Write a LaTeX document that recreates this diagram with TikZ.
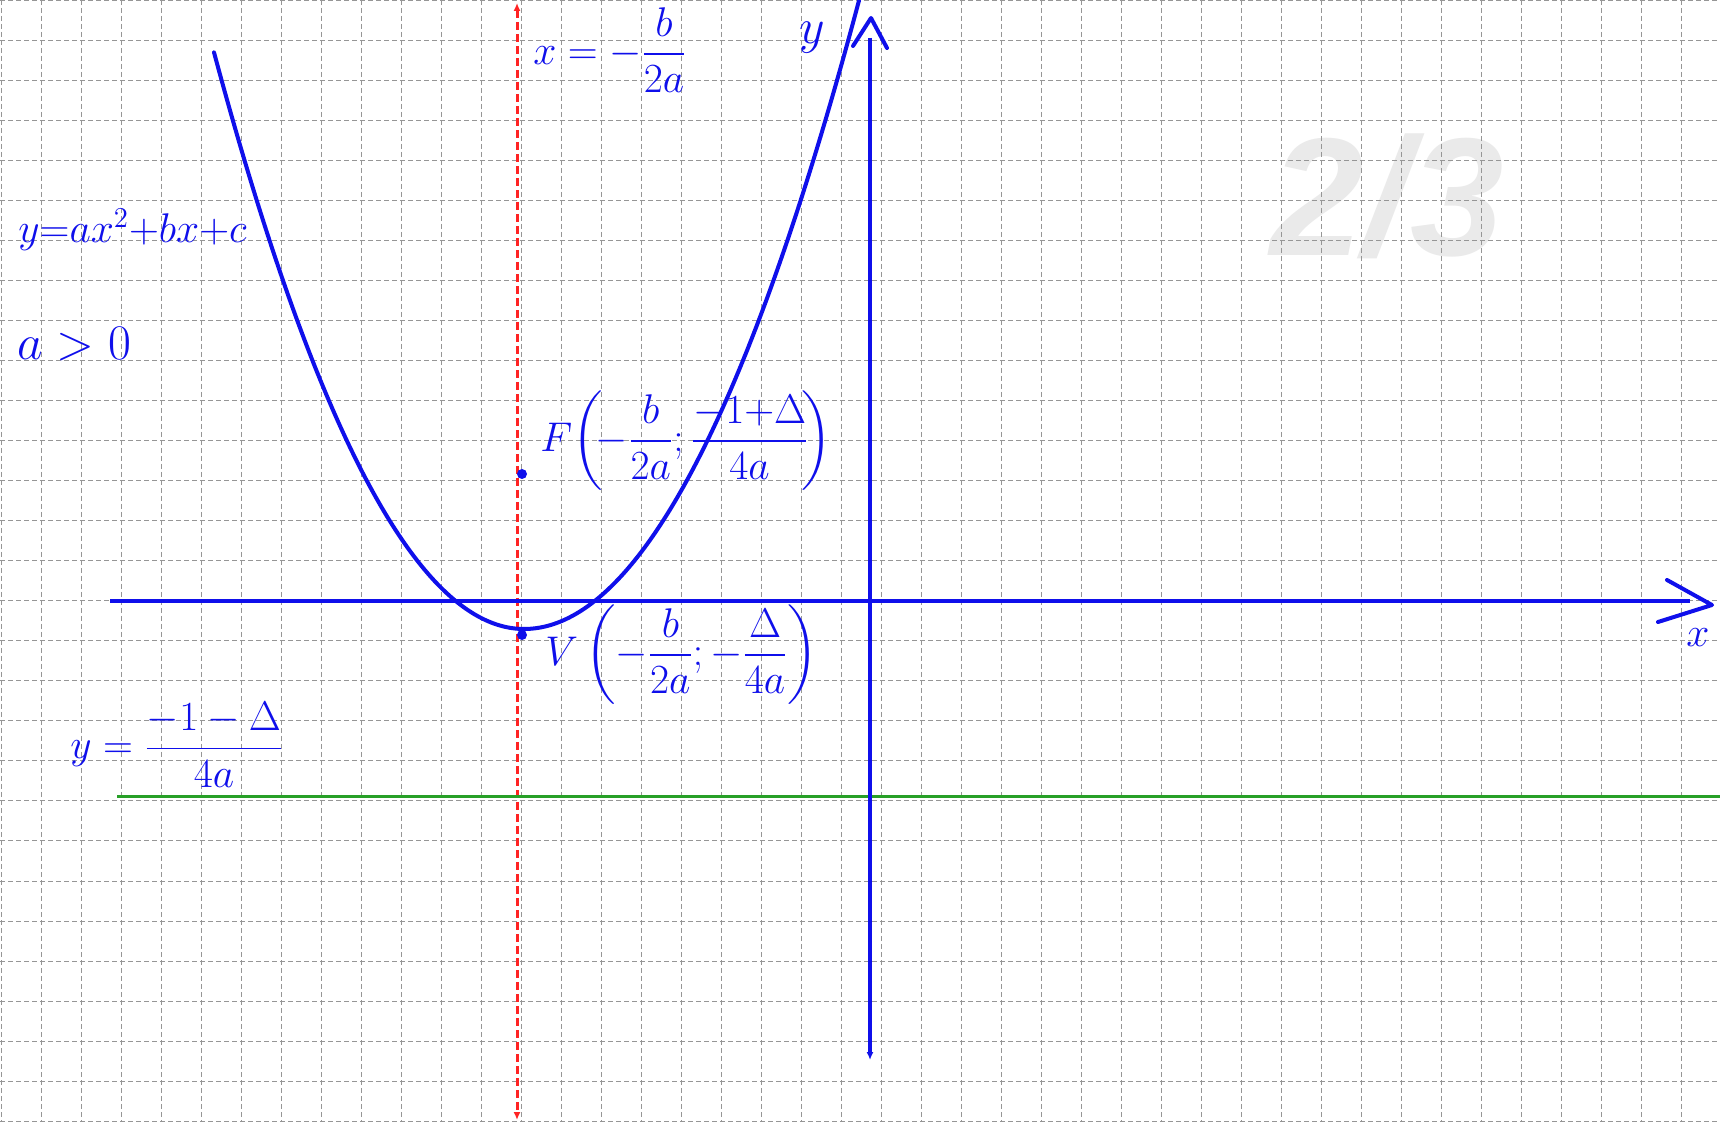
\documentclass[tikz,border=0pt]{standalone}
\usepackage{amsmath}
\usepackage{fontspec}
\newfontfamily\wmfont{Liberation Sans}
\usetikzlibrary{arrows.meta}
\definecolor{penblue}{RGB}{15,15,235}
\definecolor{gridgray}{RGB}{150,150,150}
\definecolor{penred}{RGB}{255,35,35}
\definecolor{pengreen}{RGB}{40,160,40}
\definecolor{wmgray}{RGB}{234,234,234}
\newcommand\hwsize[1]{\fontsize{#1}{#1}\selectfont}
\begin{document}
\begin{tikzpicture}[x=0.5pt,y=-0.5pt,
  gridline/.style={gridgray, line width=0.5pt, dash pattern=on 2.5pt off 1.5pt},
  pen/.style={penblue, line width=2pt, line cap=round, line join=round},
  axisline/.style={penblue, line width=1.7pt},
  lbl/.style={text=penblue, inner sep=0pt},
  dotnode/.style={circle, fill=penblue, inner sep=0pt, minimum size=5pt},
  wm/.style={text=wmgray, font=\wmfont\bfseries\itshape\hwsize{84}, inner sep=0pt}]
\useasboundingbox (0,0) rectangle (1720,1122);
\fill[white] (0,0) rectangle (1720,1122);
% watermark
\node[wm] (wmark) at (1387,196) {2/3};
% grid
\foreach \i in {0,...,42} \draw[gridline] ({1+40*\i},0) -- ({1+40*\i},1122);
\foreach \j in {0,...,28} \draw[gridline] (0,{1+40*\j}) -- (1720,{1+40*\j});
% coordinates
\coordinate (redtop) at (517,3);
\coordinate (redbot) at (517,1120);
\coordinate (xl) at (110,601);
\coordinate (xr) at (1690,601);
\coordinate (xh1) at (1667,580);
\coordinate (xtip) at (1712,605);
\coordinate (xh2) at (1658,622);
\coordinate (yt) at (870,38);
\coordinate (yb) at (870,1060);
\coordinate (yh1) at (853,46);
\coordinate (ytip) at (871,18);
\coordinate (yh2) at (887,48);
\coordinate (gl) at (117,797);
\coordinate (gr) at (1720,797);
% symmetry axis
\draw[penred, line width=1.5pt, dash pattern=on 4pt off 2pt,
  {Latex[length=4pt,width=3.5pt]}-{Latex[length=4pt,width=3.5pt]}] (redtop) -- (redbot);
% directrix
\draw[pengreen, line width=1.5pt] (gl) -- (gr);
% axes
\draw[axisline] (xl) -- (xr);
\draw[pen] (xh1) -- (xtip) -- (xh2);
\draw[axisline, -{Latex[length=4pt,width=3.5pt]}] (yt) -- (yb);
\draw[pen] (yh1) -- (ytip) -- (yh2);
% parabola
\draw[pen] plot[smooth, samples=60, domain=214:524] (\x, {629-0.6*((\x-524)/10)^2})
  -- plot[smooth, samples=60, domain=524:859] (\x, {629-0.56*((\x-524)/10)^2});
% dots
\node[dotnode] (Fdot) at (522,474) {};
\node[dotnode] (Vdot) at (522,635) {};
% labels
\node[lbl, font=\hwsize{22}, anchor=base west] (eq) at (18,243) {$y{=}ax^2{+}bx{+}c$};
\node[lbl, font=\hwsize{23}, anchor=base west] (apos) at (17,360) {$a>0$};
\node[lbl, font=\hwsize{21}] (xeq) at (610,50) {$x=-\dfrac{b}{2a}$};
\node[lbl, font=\hwsize{24}] (ylab) at (812,38) {$y$};
\node[lbl, font=\hwsize{22}] (xlab) at (1698,638) {$x$};
\node[lbl, font=\hwsize{20}, anchor=west] (Flab) at (540,441) {$F\!\left(\!-\dfrac{b}{2a};\dfrac{{-}1{+}\Delta}{4a}\!\right)$};
\node[lbl, font=\hwsize{20}, anchor=west] (Vlab) at (545,655) {$V\left(-\dfrac{b}{2a};-\dfrac{\Delta}{4a}\right)$};
\node[lbl, font=\hwsize{21}, anchor=west] (dirlab) at (70,745) {$y=\dfrac{-1-\Delta}{4a}$};
\end{tikzpicture}
\end{document}
